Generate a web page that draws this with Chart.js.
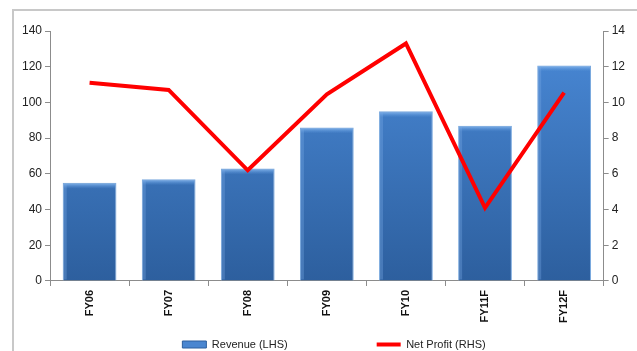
<!DOCTYPE html>
<html>
<head>
    <title>Revenue and Net Profit</title>
    <script src="https://cdn.jsdelivr.net/npm/chart.js@4"></script>
    <style>
        body { margin: 0; background: #fff; }
        #frame {
            position: absolute;
            left: 12px;
            top: 9px;
            width: 700px;
            height: 400px;
            border-left: 2px solid #c8c8c8;
            border-top: 2px solid #c8c8c8;
        }
        #wrap { position: absolute; left: 0; top: 0; width: 637px; height: 351px; }
    </style>
</head>
<body>
<div id="frame"></div>
<div id="wrap"><canvas id="chart" width="637" height="351"></canvas></div>
<script>
    // Values
    const categories = ['FY06', 'FY07', 'FY08', 'FY09', 'FY10', 'FY11F', 'FY12F'];
    const revenue = [55, 57, 63, 86, 95, 87, 120.7];
    const netProfit = [11.1, 10.7, 6.2, 10.45, 13.3, 4.1, 10.55];
    const leftTicks = [0, 20, 40, 60, 80, 100, 120, 140];
    const rightTicks = [0, 2, 4, 6, 8, 10, 12, 14];

    const FONT = "'Liberation Sans', Arial, sans-serif";
    const AXIS_GREY = '#8c8c8c';

    // Excel-ish gradient fill for the bars
    function barFill(context) {
        const chart = context.chart;
        const area = chart.chartArea;
        if (!area) return '#3b78c4';
        const g = chart.ctx.createLinearGradient(0, area.top, 0, area.bottom);
        g.addColorStop(0, '#4a8ad8');
        g.addColorStop(1, '#2d5f9e');
        return g;
    }

    // Light bevel strip on top of each bar, using the bar elements from the library
    const bevel = {
        id: 'bevel',
        afterDatasetDraw(chart, args) {
            if (args.index !== 1) return;
            const ctx = chart.ctx;
            args.meta.data.forEach((bar) => {
                const left = bar.x - bar.width / 2;
                const g = ctx.createLinearGradient(0, bar.y, 0, bar.y + 6);
                g.addColorStop(0, '#8dbcf0');
                g.addColorStop(1, 'rgba(90,150,220,0)');
                ctx.save();
                ctx.fillStyle = g;
                ctx.fillRect(left + 1, bar.y + 1, bar.width - 2, 6);
                ctx.fillStyle = 'rgba(120,170,230,0.35)';
                ctx.fillRect(left + 1, bar.y + 1, 3, bar.base - bar.y - 2);
                ctx.restore();
            });
        }
    };

    // nudge the legend a little to the right, like the original
    const legendShift = {
        id: 'legendShift',
        afterLayout(chart) {
            if (chart.legend) chart.legend.left += 21;
        }
    };

    new Chart(document.getElementById('chart'), {
        data: {
            labels: categories,
            datasets: [
                {
                    type: 'line',
                    label: 'Net Profit (RHS)',
                    data: netProfit,
                    yAxisID: 'y1',
                    borderColor: '#ff0000',
                    backgroundColor: '#ff0000',
                    borderWidth: 4,
                    pointRadius: 0,
                    tension: 0,
                    order: 0,
                },
                {
                    type: 'bar',
                    label: 'Revenue (LHS)',
                    data: revenue,
                    yAxisID: 'y',
                    backgroundColor: barFill,
                    borderColor: '#7aa9de',
                    borderWidth: 1,
                    barPercentage: 0.68,
                    categoryPercentage: 1,
                    order: 1,
                }
            ]
        },
        plugins: [bevel, legendShift],
        options: {
            animation: false,
            responsive: false,
            layout: { padding: { left: 19, right: 9, top: 31, bottom: -9 } },
            plugins: {
                tooltip: { enabled: false },
                legend: {
                    position: 'bottom',
                    reverse: true,
                    labels: {
                        font: { family: FONT, size: 11 },
                        color: '#222',
                        usePointStyle: true,
                        pointStyleWidth: 24,
                        boxHeight: 7,
                        padding: 1,
                        generateLabels(chart) {
                            const items = Chart.defaults.plugins.legend.labels.generateLabels(chart);
                            items.forEach((item) => {
                                const ds = chart.data.datasets[item.datasetIndex];
                                if (ds.type === 'bar') {
                                    item.pointStyle = 'rect';
                                    item.fillStyle = '#4a86d0';
                                    item.strokeStyle = '#2d5f9e';
                                    item.lineWidth = 1;
                                    // wide gap before the next legend entry
                                    item.text = item.text + '\u2003'.repeat(8);
                                } else {
                                    item.pointStyle = 'line';
                                    item.strokeStyle = '#ff0000';
                                    item.lineWidth = 4;
                                }
                            });
                            return items;
                        }
                    }
                }
            },
            scales: {
                x: {
                    offset: true,
                    afterFit: (axis) => { axis.height += 11; },
                    grid: {
                        offset: true,
                        drawOnChartArea: false,
                        drawTicks: true,
                        tickLength: 5,
                        color: AXIS_GREY,
                    },
                    border: { color: AXIS_GREY, width: 1 },
                    ticks: {
                        minRotation: 90,
                        maxRotation: 90,
                        padding: 4,
                        color: '#111',
                        font: { family: FONT, size: 11, weight: 'bold' },
                    }
                },
                y: {
                    position: 'left',
                    min: 0,
                    max: 140,
                    afterBuildTicks: (axis) => { axis.ticks = leftTicks.map(v => ({ value: v })); },
                    grid: { drawOnChartArea: false, tickLength: 5, color: AXIS_GREY },
                    border: { color: AXIS_GREY, width: 1 },
                    ticks: { padding: 3, color: '#222', font: { family: FONT, size: 12 } }
                },
                y1: {
                    position: 'right',
                    min: 0,
                    max: 14,
                    afterBuildTicks: (axis) => { axis.ticks = rightTicks.map(v => ({ value: v })); },
                    grid: { drawOnChartArea: false, tickLength: 5, color: AXIS_GREY },
                    border: { color: AXIS_GREY, width: 1 },
                    ticks: { padding: 3, color: '#222', font: { family: FONT, size: 12 } }
                }
            }
        }
    });
</script>
</body>
</html>
